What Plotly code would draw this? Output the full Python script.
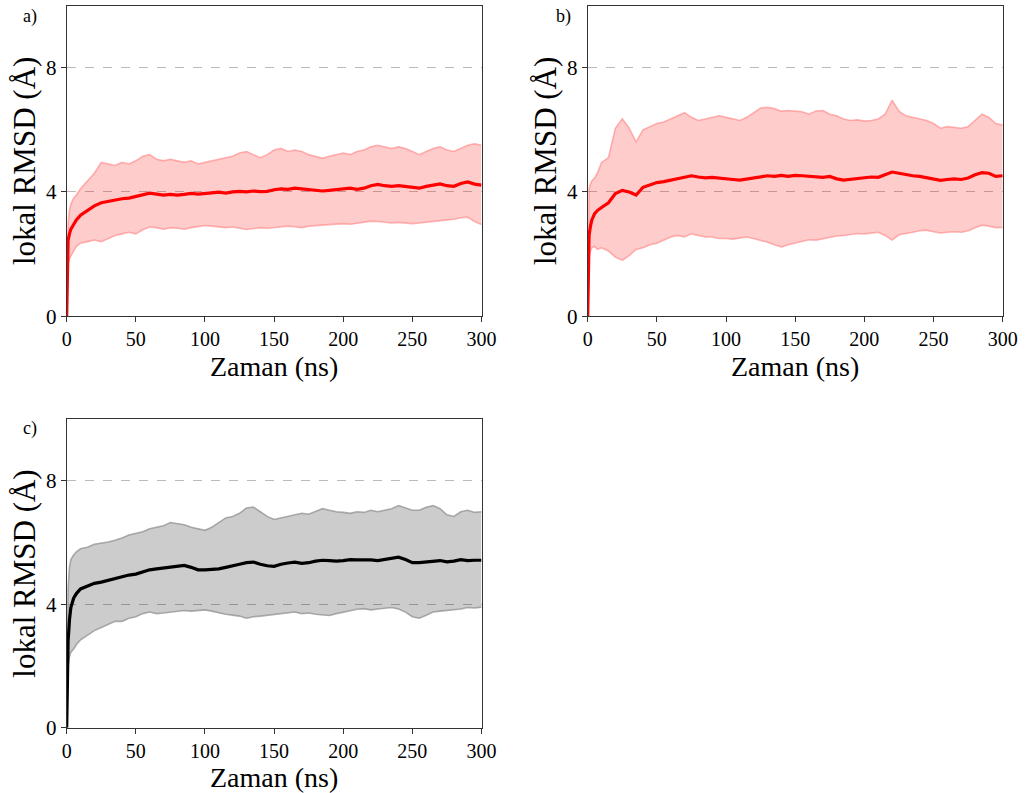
import plotly.graph_objects as go

# time (ns)
T = [0, 1, 2, 3, 5, 7, 10, 15, 20, 25, 30, 35, 40, 45, 50, 55, 60, 65, 70, 75, 80, 85, 90, 95,
     100, 105, 110, 115, 120, 125, 130, 135, 140, 145, 150, 155, 160, 165, 170, 175, 180, 185,
     190, 195, 200, 205, 210, 215, 220, 225, 230, 235, 240, 245, 250, 255, 260, 265, 270, 275,
     280, 285, 290, 295, 300]

# panel a
a_mean = [0, 2.45, 2.65, 2.8, 2.95, 3.1, 3.25, 3.4, 3.55, 3.65, 3.7, 3.75, 3.78, 3.8, 3.85, 3.92,
          3.96, 3.93, 3.9, 3.92, 3.9, 3.92, 3.95, 3.93, 3.96, 3.97, 3.99, 3.96, 4.0, 4.02, 4.0,
          4.03, 4.01, 4.02, 4.07, 4.1, 4.08, 4.12, 4.1, 4.08, 4.06, 4.03, 4.05, 4.08, 4.1, 4.12,
          4.08, 4.12, 4.2, 4.24, 4.2, 4.18, 4.2, 4.17, 4.15, 4.12, 4.18, 4.22, 4.26, 4.2, 4.18,
          4.27, 4.32, 4.25, 4.22]
a_upper = [0, 3.0, 3.4, 3.6, 3.8, 3.9, 4.1, 4.35, 4.6, 4.95, 4.9, 4.85, 4.95, 4.9, 5.0, 5.15,
           5.2, 5.05, 5.0, 5.05, 5.0, 4.95, 5.0, 4.9, 4.95, 5.0, 5.05, 5.1, 5.15, 5.25, 5.3,
           5.2, 5.1, 5.2, 5.35, 5.4, 5.3, 5.35, 5.3, 5.2, 5.15, 5.08, 5.15, 5.2, 5.25, 5.2,
           5.3, 5.35, 5.45, 5.5, 5.45, 5.4, 5.45, 5.4, 5.3, 5.2, 5.3, 5.4, 5.45, 5.35, 5.3,
           5.4, 5.5, 5.55, 5.5]
a_lower = [0, 1.7, 1.85, 1.95, 2.1, 2.25, 2.35, 2.4, 2.45, 2.4, 2.5, 2.6, 2.65, 2.7, 2.65, 2.78,
           2.87, 2.85, 2.8, 2.85, 2.83, 2.8, 2.85, 2.88, 2.92, 2.9, 2.88, 2.85, 2.87, 2.83, 2.79,
           2.82, 2.85, 2.83, 2.86, 2.87, 2.9, 2.88, 2.85, 2.9, 2.92, 2.93, 2.95, 2.97, 2.98,
           2.96, 3.0, 3.03, 3.06, 3.05, 3.02, 3.0, 3.02, 3.0, 2.98, 3.0, 3.03, 3.05, 3.07, 3.1,
           3.12, 3.17, 3.19, 3.05, 2.95]

# panel b
b_mean = [0, 2.6, 2.9, 3.1, 3.3, 3.4, 3.5, 3.65, 3.95, 4.05, 4.0, 3.9, 4.15, 4.22, 4.3, 4.33,
          4.38, 4.42, 4.48, 4.52, 4.48, 4.45, 4.47, 4.44, 4.43, 4.4, 4.38, 4.42, 4.46, 4.5, 4.52,
          4.5, 4.53, 4.5, 4.53, 4.52, 4.5, 4.48, 4.47, 4.5, 4.42, 4.38, 4.4, 4.43, 4.45, 4.48,
          4.47, 4.55, 4.64, 4.6, 4.55, 4.52, 4.5, 4.45, 4.4, 4.37, 4.4, 4.42, 4.4, 4.45, 4.55,
          4.62, 4.6, 4.5, 4.52]
b_upper = [0, 4.1, 4.25, 4.35, 4.45, 4.6, 4.95, 5.1, 6.05, 6.35, 6.05, 5.6, 6.0, 6.1, 6.2, 6.25,
           6.35, 6.45, 6.55, 6.4, 6.3, 6.35, 6.4, 6.45, 6.4, 6.35, 6.3, 6.4, 6.55, 6.7, 6.72,
           6.68, 6.6, 6.62, 6.6, 6.58, 6.5, 6.6, 6.62, 6.5, 6.45, 6.35, 6.3, 6.32, 6.28, 6.3,
           6.35, 6.5, 6.95, 6.6, 6.45, 6.4, 6.35, 6.3, 6.2, 6.05, 6.1, 6.08, 6.05, 6.1, 6.3,
           6.5, 6.4, 6.2, 6.15]
b_lower = [0, 1.9, 2.1, 2.2, 2.25, 2.15, 2.2, 2.1, 1.9, 1.8, 1.95, 2.15, 2.2, 2.3, 2.35, 2.45,
           2.55, 2.6, 2.55, 2.65, 2.6, 2.55, 2.55, 2.5, 2.5, 2.48, 2.52, 2.55, 2.5, 2.45, 2.38,
           2.3, 2.23, 2.3, 2.35, 2.4, 2.46, 2.45, 2.5, 2.55, 2.58, 2.6, 2.62, 2.66, 2.65, 2.68,
           2.7, 2.6, 2.45, 2.62, 2.65, 2.7, 2.75, 2.77, 2.72, 2.68, 2.7, 2.72, 2.7, 2.75, 2.85,
           2.93, 2.9, 2.85, 2.86]

# panel c
c_mean = [0, 2.8, 3.5, 3.9, 4.2, 4.35, 4.5, 4.6, 4.68, 4.72, 4.78, 4.85, 4.9, 4.95, 4.98, 5.05,
          5.12, 5.15, 5.18, 5.2, 5.22, 5.26, 5.2, 5.12, 5.12, 5.13, 5.15, 5.2, 5.24, 5.3, 5.35,
          5.37, 5.3, 5.25, 5.23, 5.3, 5.34, 5.37, 5.33, 5.35, 5.4, 5.43, 5.42, 5.4, 5.42, 5.45,
          5.44, 5.45, 5.44, 5.42, 5.45, 5.5, 5.53, 5.45, 5.35, 5.35, 5.38, 5.4, 5.42, 5.38, 5.4,
          5.45, 5.42, 5.43, 5.43]
c_upper = [0, 4.5, 5.2, 5.45, 5.6, 5.7, 5.8, 5.85, 5.95, 5.98, 6.02, 6.08, 6.15, 6.25, 6.3, 6.35,
           6.45, 6.5, 6.55, 6.65, 6.62, 6.58, 6.5, 6.45, 6.4, 6.5, 6.65, 6.8, 6.85, 6.95, 7.12,
           7.15, 7.0, 6.85, 6.75, 6.8, 6.85, 6.9, 6.95, 6.92, 7.0, 7.1, 7.05, 7.0, 6.98, 6.95,
           7.0, 6.98, 7.05, 7.0, 7.05, 7.1, 7.2, 7.12, 7.05, 7.05, 7.15, 7.2, 7.1, 6.9, 6.85,
           7.0, 7.05, 6.98, 7.0]
c_lower = [0, 2.0, 2.3, 2.45, 2.55, 2.7, 2.85, 3.0, 3.15, 3.25, 3.35, 3.45, 3.45, 3.55, 3.6, 3.7,
           3.75, 3.7, 3.72, 3.75, 3.78, 3.8, 3.78, 3.8, 3.82, 3.78, 3.72, 3.68, 3.65, 3.62, 3.55,
           3.6, 3.62, 3.65, 3.68, 3.7, 3.72, 3.75, 3.7, 3.72, 3.68, 3.65, 3.64, 3.7, 3.75, 3.8,
           3.84, 3.86, 3.82, 3.85, 3.88, 3.9, 3.85, 3.75, 3.6, 3.55, 3.65, 3.75, 3.78, 3.8, 3.82,
           3.85, 3.9, 3.88, 3.91]

panel_labels = ["a)", "b)", "c)"]
x_title = "Zaman (ns)"
y_title = "lokal RMSD (Å)"
x_ticks = [0, 50, 100, 150, 200, 250, 300]
y_ticks = [0, 4, 8]

FONT = "Liberation Serif, Times New Roman, Times, serif"
W, H = 1026, 793

panels = [
    dict(mean=a_mean, up=a_upper, lo=a_lower, line="#ff0000", fill="rgba(255,0,0,0.2)",
         edge="rgba(255,120,120,0.55)", xd=(66.7, 481.5), yd=(5.5, 316.2), lab=(30, 16)),
    dict(mean=b_mean, up=b_upper, lo=b_lower, line="#ff0000", fill="rgba(255,0,0,0.2)",
         edge="rgba(255,120,120,0.55)", xd=(587.7, 1002.7), yd=(5.5, 316.2), lab=(563, 16)),
    dict(mean=c_mean, up=c_upper, lo=c_lower, line="#000000", fill="rgba(0,0,0,0.2)",
         edge="rgba(140,140,140,0.7)", xd=(66.7, 481.5), yd=(419.2, 727.8), lab=(30, 428)),
]

def px_x(v):
    return v / W

def px_y(v):
    return 1 - v / H

fig = go.Figure()
layout = dict(
    width=W, height=H, margin=dict(l=0, r=0, t=0, b=0),
    paper_bgcolor="white", plot_bgcolor="white", showlegend=False,
    font=dict(family=FONT, color="black"),
)
annotations = []
for i, p in enumerate(panels):
    n = "" if i == 0 else str(i + 1)
    xa, ya = "x" + n, "y" + n
    fig.add_trace(go.Scatter(x=T, y=p["lo"], mode="lines", line=dict(color=p["edge"], width=1.6),
                             xaxis=xa, yaxis=ya, hoverinfo="skip"))
    fig.add_trace(go.Scatter(x=T, y=p["up"], mode="lines", line=dict(color=p["edge"], width=1.6),
                             fill="tonexty", fillcolor=p["fill"], xaxis=xa, yaxis=ya, hoverinfo="skip"))
    fig.add_trace(go.Scatter(x=T, y=p["mean"], mode="lines", line=dict(color=p["line"], width=3.2),
                             xaxis=xa, yaxis=ya))
    x0, x1 = p["xd"]
    y0, y1 = p["yd"]
    layout["xaxis" + n] = dict(
        domain=[px_x(x0), px_x(x1)], anchor=ya, range=[0, 300], tickvals=x_ticks,
        showgrid=False, zeroline=False, showline=True, mirror=True, linecolor="#333", linewidth=1.2,
        ticks="outside", ticklen=5, tickcolor="#333", tickfont=dict(size=20, family=FONT),
        automargin=False,
    )
    layout["yaxis" + n] = dict(
        domain=[px_y(y1), px_y(y0)], anchor=xa, range=[0, 10], tickvals=y_ticks,
        showgrid=True, gridcolor="#bbbbbb", griddash="dash", gridwidth=0.8,
        zeroline=False, showline=True, mirror=True, linecolor="#333", linewidth=1.2,
        ticks="outside", ticklen=5, tickcolor="#333", tickfont=dict(size=21, family=FONT),
        title=dict(text=y_title, font=dict(size=31, family=FONT), standoff=1), automargin=False,
    )
    # x-axis title, placed below the tick labels
    annotations.append(dict(text=x_title, x=px_x((x0 + x1) / 2), y=px_y(y1 + 50),
                            xref="paper", yref="paper", showarrow=False,
                            font=dict(size=28, family=FONT), xanchor="center", yanchor="middle"))
    annotations.append(dict(text=panel_labels[i], x=px_x(p["lab"][0]), y=px_y(p["lab"][1]),
                            xref="paper", yref="paper", showarrow=False,
                            font=dict(size=18, family=FONT), xanchor="center", yanchor="middle"))
layout["annotations"] = annotations
fig.update_layout(**layout)
fig.write_html("out.html", config={"displayModeBar": False},
               post_script="document.body.style.margin='0';document.body.style.overflow='hidden';")
